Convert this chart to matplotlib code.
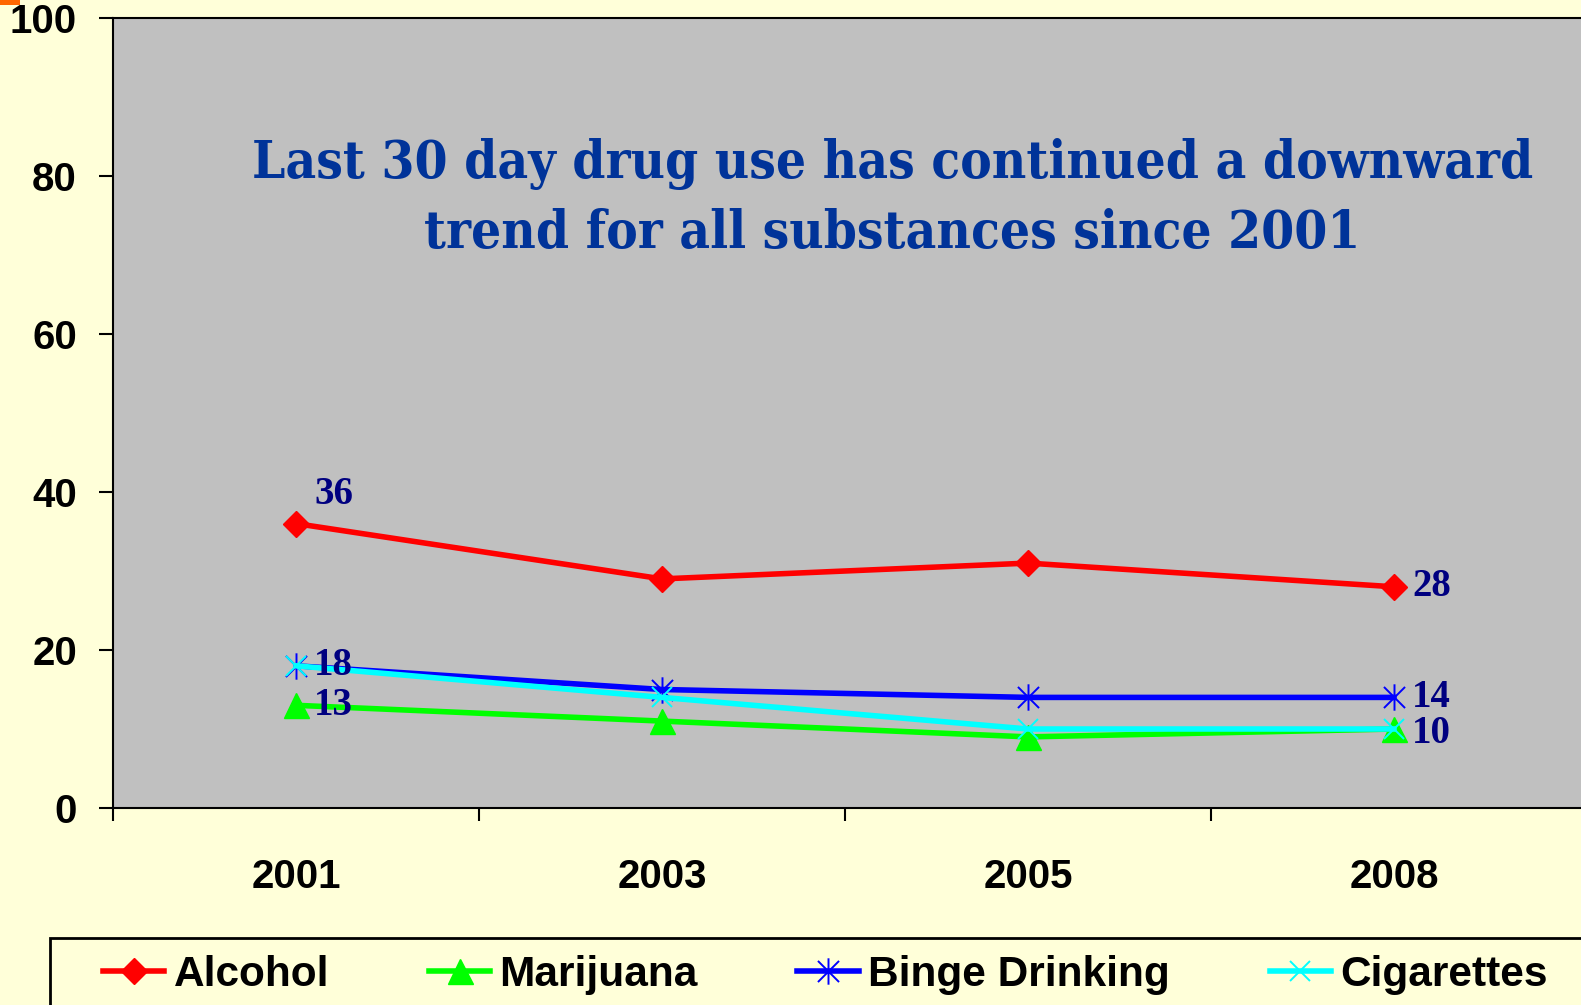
import matplotlib
matplotlib.use('Agg')
import matplotlib.pyplot as plt
from matplotlib.patches import Rectangle
from matplotlib.path import Path

YEARS = ['2001', '2003', '2005', '2008']
SERIES = ['Alcohol', 'Marijuana', 'Binge Drinking', 'Cigarettes']
ALCOHOL = [36, 29, 31, 28]
MARIJUANA = [13, 11, 9, 10]
BINGE = [18, 15, 14, 14]
CIGARETTES = [18, 14, 10, 10]
# which points carry a value label (series index, year index)
LABEL_POINTS = [(0, 0), (0, 3), (2, 0), (1, 0), (2, 3), (1, 3)]

TITLE_1 = 'Last 30 day drug use has continued a downward'
TITLE_2 = 'trend for all substances since 2001'

BG = '#FFFFD9'
PLOT_BG = '#C0C0C0'
LABEL_COLOR = '#000080'

# Excel-like star: vertical bar plus an X
star = Path([(0, -1), (0, 1), (-0.8, -0.8), (0.8, 0.8), (-0.8, 0.8), (0.8, -0.8)],
            [Path.MOVETO, Path.LINETO, Path.MOVETO, Path.LINETO, Path.MOVETO, Path.LINETO])

styles = [
    dict(color='#FF0000', marker='D', ms=13),
    dict(color='#00FF00', marker='^', ms=18),
    dict(color='#0000FF', marker=star, ms=19, mew=1.4),
    dict(color='#00FFFF', marker='x', ms=15, mew=1.4),
]
values = [ALCOHOL, MARIJUANA, BINGE, CIGARETTES]

fig = plt.figure(figsize=(15.81, 10.05), dpi=100, facecolor=BG)
# plot area runs past the right edge of the picture
ax = fig.add_axes([113 / 1581, 1 - 808 / 1005, 1490 / 1581, 790 / 1005])
ax.set_facecolor(PLOT_BG)

x = list(range(len(YEARS)))
handles = []
for name, vals, st in zip(SERIES, values, styles):
    h, = ax.plot(x, vals, lw=4, color=st['color'], marker=st['marker'],
                 markersize=st['ms'], markeredgewidth=st.get('mew', 1),
                 markerfacecolor=st['color'], markeredgecolor=st['color'],
                 label=name, clip_on=False)
    handles.append(h)

for si, xi in LABEL_POINTS:
    v = values[si][xi]
    if si == 0 and xi == 0:
        dy = 21
    elif si == 1 and xi == 3:
        dy = -3
    else:
        dy = 0
    ax.annotate(str(v), (xi, v), xytext=(13, dy), textcoords='offset points',
                ha='left', va='center', fontsize=28, fontweight='bold',
                family='Liberation Serif', color=LABEL_COLOR)

ax.set_xlim(-0.5, -0.5 + 4 * 1490 / 1464)
ax.set_ylim(0, 100)
ax.set_yticks([0, 20, 40, 60, 80, 100])
ax.tick_params(axis='y', length=10, width=1.5, pad=16, labelsize=29, direction='out')
ax.set_xticks([-0.5, 0.5, 1.5, 2.5])
ax.set_xticklabels([])
ax.tick_params(axis='x', which='major', length=9, width=1.5, direction='out')
ax.set_xticks(x, minor=True)
ax.set_xticklabels(YEARS, minor=True)
ax.tick_params(axis='x', which='minor', length=0, pad=36, labelsize=29)
for lab in ax.get_xticklabels(minor=True) + ax.get_yticklabels():
    lab.set_fontweight('bold')
    lab.set_family('Liberation Sans')
for sp in ax.spines.values():
    sp.set_linewidth(1.5)
ax.spines['right'].set_visible(False)

ax.text(0.523, 0.797, TITLE_1, transform=ax.transAxes, ha='center', va='baseline',
        fontsize=38, fontweight='bold', family='DejaVu Serif', stretch='condensed',
        color='#003399')
ax.text(0.523, 0.709, TITLE_2, transform=ax.transAxes, ha='center', va='baseline',
        fontsize=38, fontweight='bold', family='DejaVu Serif', stretch='condensed',
        color='#003399')

# legend box running off the bottom/right edge
fig.patches.append(Rectangle((50 / 1581, -0.05), 1.0, 0.05 + 1 - 938 / 1005,
                             transform=fig.transFigure, facecolor=BG,
                             edgecolor='black', lw=2))
fig.patches.append(Rectangle((0, 1 - 5 / 1005), 20 / 1581, 5 / 1005,
                             transform=fig.transFigure, facecolor='#FF6600',
                             edgecolor='none'))

leg = fig.legend(handles=handles, loc='center left', bbox_to_anchor=(103 / 1581, 1 - 975 / 1005),
                 ncol=4, frameon=False, borderpad=0, borderaxespad=0,
                 handlelength=1.45, handletextpad=0.22, columnspacing=2.35,
                 prop={'family': 'Liberation Sans', 'weight': 'bold', 'size': 30.5})

fig.savefig('out.png', dpi=100, facecolor=BG)
